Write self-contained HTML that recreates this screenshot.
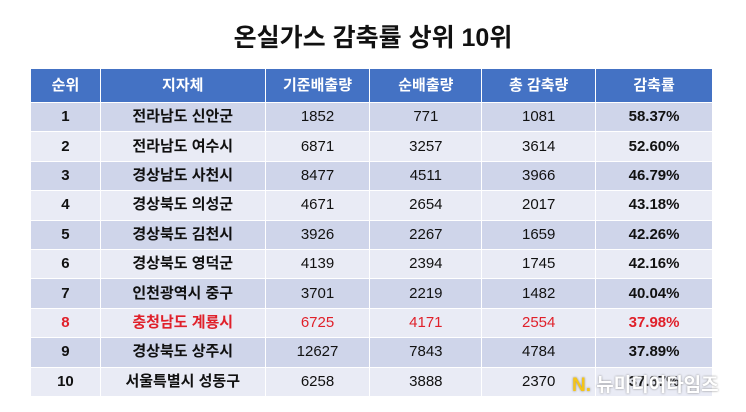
<!DOCTYPE html>
<html><head><meta charset="utf-8"><style>
body{margin:0;width:746px;height:412px;background:#fff;font-family:"Liberation Sans","Noto Sans CJK KR",sans-serif;position:relative;overflow:hidden}
h1{position:absolute;top:18px;left:0;width:746px;text-align:center;margin:0;font-size:25px;font-weight:bold;color:#111}
table{position:absolute;left:30px;top:68px;border-collapse:collapse;width:683px}
td,th{border:1.5px solid #fff;text-align:center;font-size:15px;color:#111;padding:0;height:28.4px;line-height:16px}
th{background:#4472c4;color:#fff;font-size:15px;height:33px;font-weight:bold}
tr:nth-child(even) td{background:#cfd5ea}
tr:nth-child(odd) td{background:#e9ebf5}
td.b{font-weight:bold}
tr.r td{color:#e0202a}
.logo{position:absolute;left:572px;top:370px;font-size:19px;font-weight:bold;color:#fff;text-shadow:0 0 2px #888;}
.logo span{color:#f5c518}
</style></head><body>
<h1>온실가스 감축률 상위 10위</h1>
<table>
<colgroup><col style="width:70px"><col style="width:165px"><col style="width:105px"><col style="width:112px"><col style="width:114px"><col style="width:117px"></colgroup>
<tr><th>순위</th><th>지자체</th><th>기준배출량</th><th>순배출량</th><th>총 감축량</th><th>감축률</th></tr>
<tr><td class="b">1</td><td class="b">전라남도 신안군</td><td>1852</td><td>771</td><td>1081</td><td class="b">58.37%</td></tr>
<tr><td class="b">2</td><td class="b">전라남도 여수시</td><td>6871</td><td>3257</td><td>3614</td><td class="b">52.60%</td></tr>
<tr><td class="b">3</td><td class="b">경상남도 사천시</td><td>8477</td><td>4511</td><td>3966</td><td class="b">46.79%</td></tr>
<tr><td class="b">4</td><td class="b">경상북도 의성군</td><td>4671</td><td>2654</td><td>2017</td><td class="b">43.18%</td></tr>
<tr><td class="b">5</td><td class="b">경상북도 김천시</td><td>3926</td><td>2267</td><td>1659</td><td class="b">42.26%</td></tr>
<tr><td class="b">6</td><td class="b">경상북도 영덕군</td><td>4139</td><td>2394</td><td>1745</td><td class="b">42.16%</td></tr>
<tr><td class="b">7</td><td class="b">인천광역시 중구</td><td>3701</td><td>2219</td><td>1482</td><td class="b">40.04%</td></tr>
<tr class="r"><td class="b">8</td><td class="b">충청남도 계룡시</td><td>6725</td><td>4171</td><td>2554</td><td class="b">37.98%</td></tr>
<tr><td class="b">9</td><td class="b">경상북도 상주시</td><td>12627</td><td>7843</td><td>4784</td><td class="b">37.89%</td></tr>
<tr><td class="b">10</td><td class="b">서울특별시 성동구</td><td>6258</td><td>3888</td><td>2370</td><td class="b">37.87%</td></tr>
</table>
<div class="logo"><span>N.</span> 뉴미디어타임즈</div>
</body></html>
